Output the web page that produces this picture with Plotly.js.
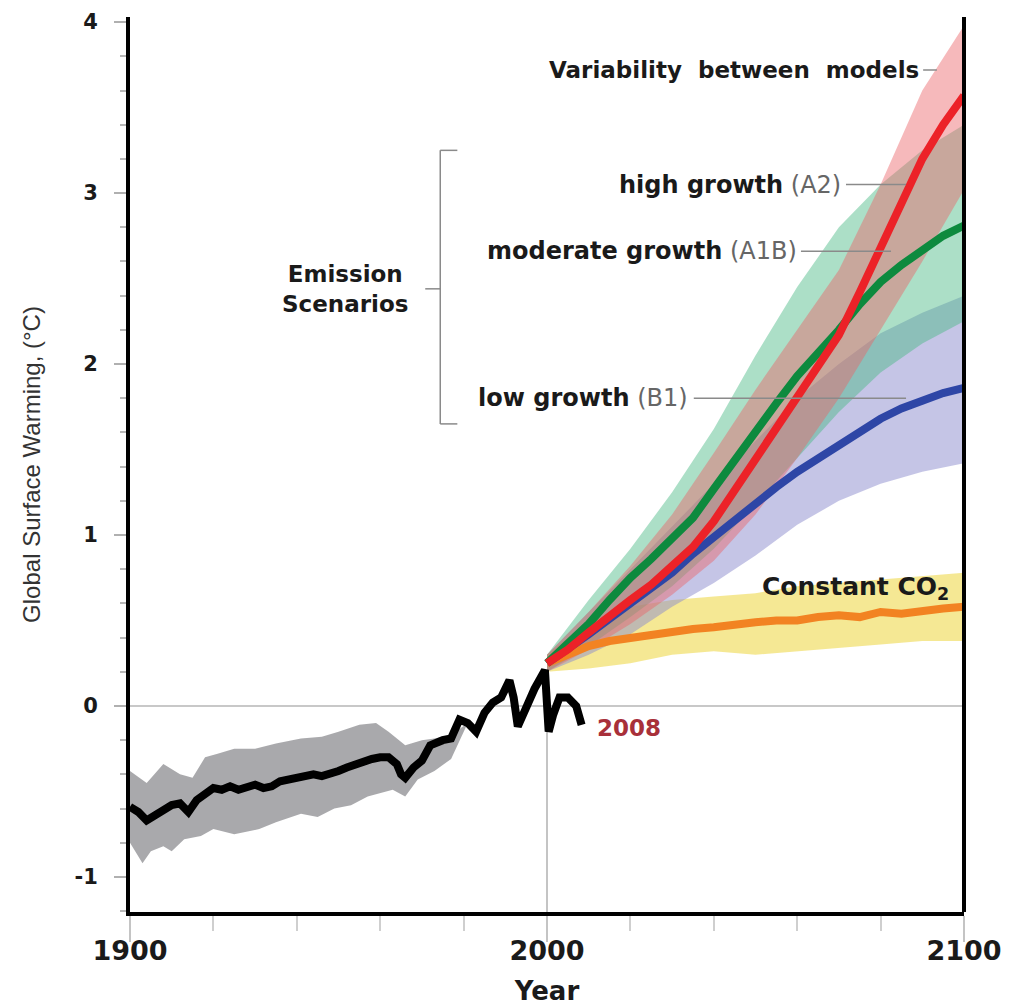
<!DOCTYPE html>
<html>
<head>
<meta charset="utf-8">
<script src="https://cdn.plot.ly/plotly-3.0.1.min.js"></script>
<style>html,body{margin:0;padding:0;background:#fff;}#chart{width:1011px;height:1006px;}</style>
</head>
<body>
<div id="chart"></div>
<script>
// ---- Historical observations (black) ----
const histYears = [1900,1902,1904,1906,1908,1910,1912,1914,1916,1918,1920,1922,1924,1926,1928,1930,1932,1934,1936,1938,1940,1942,1944,1946,1948,1950,1952,1954,1956,1958,1960,1962,1964,1965,1966,1968,1970,1972,1975,1977,1979,1981,1983,1985,1987,1989,1991,1992,1993,1995,1997,1999.5,2000.4,2001.5,2003,2005,2007,2008.3];
const histTemp  = [-0.59,-0.62,-0.67,-0.64,-0.6,-0.58,-0.57,-0.62,-0.55,-0.52,-0.48,-0.49,-0.47,-0.49,-0.47,-0.46,-0.48,-0.47,-0.44,-0.43,-0.41,-0.4,-0.4,-0.41,-0.4,-0.38,-0.36,-0.34,-0.32,-0.31,-0.3,-0.3,-0.34,-0.4,-0.42,-0.36,-0.32,-0.23,-0.2,-0.19,-0.08,-0.1,-0.15,-0.04,0.02,0.05,0.15,0.05,-0.12,0.0,0.1,0.21,-0.15,-0.05,0.05,0.05,0.0,-0.11];
// grey uncertainty band of the observations
const histBandUpYears = [1900,1904,1908,1912,1915,1918,1921,1925,1930,1935,1941,1946,1950,1955,1959,1962,1966,1970,1973,1977,1981];
const histBandUp      = [-0.38,-0.45,-0.34,-0.4,-0.42,-0.3,-0.28,-0.25,-0.25,-0.22,-0.19,-0.18,-0.15,-0.11,-0.1,-0.15,-0.23,-0.2,-0.19,-0.17,-0.1];
const histBandLoYears = [1900,1903,1905,1908,1910,1913,1917,1920,1925,1931,1935,1941,1945,1949,1953,1957,1963,1966,1969,1973,1977,1981];
const histBandLo      = [-0.8,-0.92,-0.85,-0.82,-0.85,-0.78,-0.76,-0.72,-0.75,-0.72,-0.68,-0.63,-0.65,-0.6,-0.58,-0.53,-0.49,-0.53,-0.43,-0.38,-0.31,-0.1];

// ---- Scenario projections (5-year steps) ----
const projYears = [2000,2005,2010,2015,2020,2025,2030,2035,2040,2045,2050,2055,2060,2065,2070,2075,2080,2085,2090,2095,2100];
const a2   = [0.25,0.33,0.43,0.53,0.62,0.71,0.82,0.93,1.08,1.26,1.45,1.63,1.82,1.98,2.17,2.42,2.68,2.95,3.2,3.4,3.57];
const a1b  = [0.25,0.36,0.48,0.62,0.75,0.86,0.98,1.1,1.27,1.44,1.62,1.77,1.93,2.06,2.2,2.35,2.48,2.58,2.67,2.75,2.81];
const b1   = [0.25,0.33,0.42,0.51,0.6,0.68,0.78,0.89,0.99,1.09,1.18,1.28,1.37,1.45,1.52,1.6,1.68,1.74,1.79,1.83,1.86];
const co2c = [0.25,0.3,0.35,0.38,0.4,0.42,0.44,0.45,0.46,0.48,0.49,0.5,0.5,0.52,0.53,0.52,0.55,0.54,0.56,0.57,0.58];

// ---- Model spread bands (10-year steps) ----
const bandYears = [2000,2010,2020,2030,2040,2050,2060,2070,2080,2090,2100];
const a2Up   = [0.3,0.55,0.82,1.12,1.48,1.85,2.2,2.55,3.05,3.6,3.98];
const a2Lo   = [0.2,0.33,0.48,0.65,0.85,1.12,1.45,1.8,2.2,2.6,3.02];
const a1bUp  = [0.3,0.62,0.92,1.25,1.62,2.05,2.45,2.8,3.05,3.25,3.4];
const a1bLo  = [0.2,0.35,0.52,0.7,0.92,1.18,1.45,1.72,1.95,2.12,2.25];
const b1Up   = [0.3,0.55,0.8,1.05,1.3,1.55,1.8,2.0,2.18,2.3,2.4];
const b1Lo   = [0.2,0.3,0.42,0.58,0.72,0.88,1.06,1.2,1.3,1.37,1.42];
const co2Up  = [0.3,0.5,0.58,0.62,0.64,0.66,0.7,0.72,0.74,0.76,0.78];
const co2Lo  = [0.2,0.22,0.25,0.3,0.32,0.3,0.32,0.34,0.36,0.38,0.38];

// ---- Axis ticks ----
const xTickVals = [1900,2000,2100];
const xTickText = ['1900','2000','2100'];
const yTickVals = [-1,0,1,2,3,4];
const yTickText = ['-1','0','1','2','3','4'];

const xRange = [1900,2100];
const yRange = [-1.205,4.03];

function band(xu, yu, xl, yl, color) {
  return {
    x: xu.concat(xl.slice().reverse()),
    y: yu.concat(yl.slice().reverse()),
    type: 'scatter', mode: 'lines', fill: 'toself',
    fillcolor: color, line: {width: 0}, hoverinfo: 'skip', showlegend: false
  };
}
function line(x, y, color, w) {
  return {x: x, y: y, type: 'scatter', mode: 'lines',
          line: {color: color, width: w, shape: 'linear'}, showlegend: false};
}

const traces = [
  band(histBandUpYears, histBandUp, histBandLoYears, histBandLo, 'rgba(160,160,163,0.9)'),
  band(bandYears, co2Up, bandYears, co2Lo, 'rgba(240,220,90,0.65)'),
  band(bandYears, b1Up, bandYears, b1Lo, 'rgba(140,140,205,0.5)'),
  band(bandYears, a1bUp, bandYears, a1bLo, 'rgba(70,185,130,0.45)'),
  band(bandYears, a2Up, bandYears, a2Lo, 'rgba(235,100,105,0.45)'),
  line(projYears, co2c, '#f28322', 8),
  line(projYears, b1, '#2e46a6', 8),
  line(projYears, a1b, '#0d8a3e', 8),
  line(projYears, a2, '#ec2228', 8),
  line(histYears, histTemp, '#000000', 8)
];

const grey = '#8a8a8a';
const shapes = [
  {type:'line', xref:'x', yref:'y', x0:2000, x1:2000, y0:yRange[0], y1:0, line:{color:'#c4c4c4', width:2}, layer:'below'},
  {type:'line', xref:'paper', yref:'paper', x0:1, x1:1, y0:0, y1:1, line:{color:'#000', width:4}},
  // bracket
  {type:'line', x0:1974.4, x1:1974.4, y0:3.25, y1:1.65, line:{color:grey, width:1.5}},
  {type:'line', x0:1974.4, x1:1978.5, y0:3.25, y1:3.25, line:{color:grey, width:1.5}},
  {type:'line', x0:1974.4, x1:1978.5, y0:1.65, y1:1.65, line:{color:grey, width:1.5}},
  {type:'line', x0:1970.8, x1:1974.4, y0:2.44, y1:2.44, line:{color:grey, width:1.5}},
  // leaders
  {type:'line', x0:2090.2, x1:2093.5, y0:3.72, y1:3.72, line:{color:grey, width:1.5}},
  {type:'line', x0:2071.7, x1:2086.1, y0:3.05, y1:3.05, line:{color:grey, width:1.5}},
  {type:'line', x0:2060.9, x1:2082.5, y0:2.66, y1:2.66, line:{color:grey, width:1.5}},
  {type:'line', x0:2035.2, x1:2086.1, y0:1.80, y1:1.80, line:{color:grey, width:1.5}}
];

const scenFont = {family:'DejaVu Sans', size:24, color:'#1a1a1a'};
const boldFont = {family:'DejaVu Sans', size:23, color:'#1a1a1a'};
const annotations = [
  {x:2089.6, y:3.72, xanchor:'right', yanchor:'middle', showarrow:false, text:'<b>Variability  between  models</b>', font:boldFont},
  {x:2071, y:3.05, xanchor:'right', yanchor:'middle', showarrow:false, text:'<b>high growth</b> <span style="color:#666">(A2)</span>', font:scenFont},
  {x:2060.4, y:2.66, xanchor:'right', yanchor:'middle', showarrow:false, text:'<b>moderate growth</b> <span style="color:#666">(A1B)</span>', font:scenFont},
  {x:2034.3, y:1.80, xanchor:'right', yanchor:'middle', showarrow:false, text:'<b>low growth</b> <span style="color:#666">(B1)</span>', font:scenFont},
  {x:1951.6, y:2.44, xanchor:'center', yanchor:'middle', showarrow:false, align:'center', text:'<b>Emission<br>Scenarios</b>', font:{family:'DejaVu Sans', size:23, color:'#1a1a1a'}},
  {x:2097, y:0.69, xanchor:'right', yanchor:'middle', showarrow:false, text:'<b>Constant CO<sub>2</sub></b>', font:{family:'DejaVu Sans', size:25, color:'#1a1a1a'}},
  {x:2011.4, y:-0.13, xanchor:'left', yanchor:'middle', showarrow:false, text:'<b>2008</b>', font:{family:'DejaVu Sans', size:23, color:'#a8303a'}}
];

const layout = {
  width:1011, height:1006,
  margin:{l:130, r:47, t:17, b:94},
  paper_bgcolor:'#fff', plot_bgcolor:'#fff',
  showlegend:false,
  xaxis:{
    range:xRange, tickmode:'array', tickvals:xTickVals, ticktext:xTickText,
    showgrid:false, zeroline:false,
    showline:true, linecolor:'#000', linewidth:4,
    ticks:'outside', ticklen:26, tickwidth:2, tickcolor:'#c4c4c4',
    ticklabelstandoff:-14,
    tickfont:{family:'DejaVu Sans', size:27, weight:'bold', color:'#1a1a1a'},
    minor:{dtick:20, tick0:1900, ticks:'outside', ticklen:15, tickwidth:2, tickcolor:'#cfcfcf'},
    title:{text:'<b>Year</b>', font:{family:'DejaVu Sans', size:26, color:'#1a1a1a'}, standoff:22},
    automargin:false
  },
  yaxis:{
    range:yRange, tickmode:'array', tickvals:yTickVals, ticktext:yTickText,
    showgrid:false, zeroline:true, zerolinecolor:'#c8c8c8', zerolinewidth:2,
    showline:true, linecolor:'#000', linewidth:4,
    ticks:'outside', ticklen:12, tickwidth:2, tickcolor:'#b0b0b0',
    ticklabelstandoff:12,
    tickfont:{family:'DejaVu Sans', size:21, weight:'bold', color:'#1a1a1a'},
    minor:{dtick:0.2, tick0:0, ticks:'outside', ticklen:6, tickwidth:2, tickcolor:'#b8b8b8'},
    title:{text:'Global Surface Warming, (°C)', font:{family:'Liberation Sans', size:24, color:'#333'}, standoff:28},
    automargin:false
  },
  shapes:shapes,
  annotations:annotations
};

Plotly.newPlot('chart', traces, layout, {displayModeBar:false, staticPlot:true});
</script>
</body>
</html>
